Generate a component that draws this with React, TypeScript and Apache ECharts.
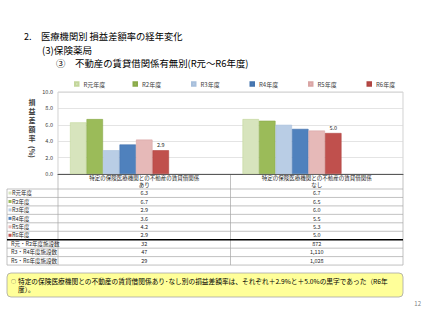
import React, { useEffect, useRef } from "react";
import * as echarts from "echarts";

const categories = ["あり", "なし"];
const headerPrefix = "特定の保険医療機関との不動産の賃貸借関係";
const years = ["R元年度", "R2年度", "R3年度", "R4年度", "R5年度", "R6年度"];
const colors = ["#d7e4bd", "#9bbb59", "#b9cde5", "#4f81bd", "#e6b9b8", "#c0504d"];
const borderColors = ["#c3d69b", "#8aaa4a", "#a7bfdc", "#4474ae", "#d9a5a4", "#b04441"];
const valR1 = [6.3, 6.7];
const valR2 = [6.7, 6.5];
const valR3 = [2.9, 6.0];
const valR4 = [3.6, 5.5];
const valR5 = [4.2, 5.3];
const valR6 = [2.9, 5.0];
const seriesValues = [valR1, valR2, valR3, valR4, valR5, valR6];
const countLabels = ["R元・R2年度施設数", "R3・R4年度施設数", "R5・R6年度施設数"];
const countsAri = ["32", "47", "29"];
const countsNashi = ["872", "1,110", "1,028"];
const yTicks = [0, 2, 4, 6, 8, 10];

const FONT = "'Noto Sans CJK JP', 'Noto Sans', sans-serif";

export default function App() {
  const ref = useRef<HTMLDivElement>(null);
  useEffect(() => {
    if (!ref.current) return;
    const chart = echarts.init(ref.current, undefined, { renderer: "svg" });

    const gLeft = 58;
    const gTop = 92;
    const gRight = 403;
    const gBottom = 174;
    const colMid = (gLeft + gRight) / 2;
    const colCenters = [(gLeft + colMid) / 2, (colMid + gRight) / 2];
    const tLeft = 7;
    const headerBottom = 189;
    const rowH = 8.45;
    const dataRows = years.length + countLabels.length;
    const rowY = (i: number) => headerBottom + i * rowH;
    const tBottom = rowY(dataRows);
    const lineColor = "#a6a6a6";
    const txt = "#262626";

    const graphic: any[] = [];
    // Titles
    graphic.push({ type: "text", x: 24, y: 36, style: { text: "2.", fontSize: 9, fill: "#000", fontFamily: FONT, textVerticalAlign: "middle" } });
    graphic.push({ type: "text", x: 41, y: 36, style: { text: "医療機関別 損益差額率の経年変化", fontSize: 9.3, fill: "#000", fontFamily: FONT, textVerticalAlign: "middle" } });
    graphic.push({ type: "text", x: 42, y: 49.5, style: { text: "(3)保険薬局", fontSize: 9.6, fill: "#000", fontFamily: FONT, textVerticalAlign: "middle" } });
    graphic.push({ type: "text", x: 56, y: 63, style: { text: "③", fontSize: 9.4, fill: "#000", fontFamily: FONT, textVerticalAlign: "middle" } });
    graphic.push({ type: "text", x: 75, y: 63, style: { text: "不動産の賃貸借関係有無別(R元～R6年度)", fontSize: 9.4, fill: "#000", fontFamily: FONT, textVerticalAlign: "middle" } });

    // Y-axis title
    graphic.push({ type: "text", x: 32, y: 97, style: { text: "損\n益\n差\n額\n率", fontSize: 7, lineHeight: 9, fontWeight: "bold", fill: "#404040", fontFamily: FONT, textAlign: "center" } });
    graphic.push({ type: "text", x: 32, y: 152, rotation: -Math.PI / 2, style: { text: "(%)", fontSize: 7, fontWeight: "bold", fill: "#404040", fontFamily: FONT, textAlign: "center", textVerticalAlign: "middle" } });

    // Table lines
    const line = (x1: number, y1: number, x2: number, y2: number, stroke = lineColor, w = 0.7) =>
      graphic.push({ type: "line", shape: { x1, y1, x2, y2 }, style: { stroke, lineWidth: w } });
    line(gLeft, gBottom, gLeft, tBottom);
    line(colMid, gBottom, colMid, tBottom);
    line(gRight, gBottom, gRight, tBottom);
    line(tLeft, headerBottom, tLeft, tBottom);
    for (let i = 0; i <= dataRows; i++) {
      if (i === years.length) continue;
      line(tLeft, rowY(i), gRight, rowY(i));
    }
    line(tLeft, rowY(years.length), gRight, rowY(years.length), "#000", 1.4);

    // Header text
    categories.forEach((c, ci) => {
      graphic.push({ type: "text", x: colCenters[ci], y: 177.5, style: { text: headerPrefix, fontSize: 5.5, fill: txt, fontFamily: FONT, textAlign: "center", textVerticalAlign: "middle" } });
      graphic.push({ type: "text", x: colCenters[ci], y: 184.5, style: { text: c, fontSize: 5.5, fill: txt, fontFamily: FONT, textAlign: "center", textVerticalAlign: "middle" } });
    });

    // Rows
    years.forEach((y, i) => {
      const cy = rowY(i) + rowH / 2;
      graphic.push({ type: "rect", shape: { x: 8.5, y: cy - 1.7, width: 3, height: 3 }, style: { fill: colors[i] } });
      graphic.push({ type: "text", x: 12, y: cy, style: { text: y, fontSize: 5.5, fill: txt, fontFamily: FONT, textVerticalAlign: "middle" } });
      seriesValues[i].forEach((v, ci) => {
        graphic.push({ type: "text", x: colCenters[ci], y: cy, style: { text: v.toFixed(1), fontSize: 5.5, fill: txt, fontFamily: FONT, textAlign: "center", textVerticalAlign: "middle" } });
      });
    });
    countLabels.forEach((l, j) => {
      const cy = rowY(years.length + j) + rowH / 2;
      graphic.push({ type: "text", x: 11, y: cy, style: { text: l, fontSize: 5.5, fill: txt, fontFamily: FONT, textVerticalAlign: "middle" } });
      [countsAri[j], countsNashi[j]].forEach((v, ci) => {
        graphic.push({ type: "text", x: colCenters[ci], y: cy, style: { text: v, fontSize: 5.5, fill: txt, fontFamily: FONT, textAlign: "center", textVerticalAlign: "middle" } });
      });
    });

    // Note box
    graphic.push({ type: "rect", shape: { x: 7, y: 273, width: 396, height: 24, r: 4 }, style: { fill: "#ffff99", stroke: "#a6a6a6", lineWidth: 0.8 } });
    graphic.push({ type: "text", x: 11, y: 280.5, style: { text: "○", fontSize: 5, fill: "#333", fontFamily: FONT, textVerticalAlign: "middle" } });
    graphic.push({ type: "text", x: 18, y: 280.5, style: { text: "特定の保険医療機関との不動産の賃貸借関係あり･なし別の損益差額率は、それぞれ＋2.9%と＋5.0%の黒字であった（R6年", fontSize: 6.7, fill: "#000", fontFamily: FONT, textVerticalAlign: "middle" } });
    graphic.push({ type: "text", x: 18, y: 289, style: { text: "度）。", fontSize: 6.7, fill: "#000", fontFamily: FONT, textVerticalAlign: "middle" } });
    graphic.push({ type: "text", x: 421, y: 303, style: { text: "12", fontSize: 6, fill: "#7f7f7f", fontFamily: FONT, textAlign: "right", textVerticalAlign: "middle" } });

    const series: any[] = years.map((name, i) => ({
      name,
      type: "bar",
      data: seriesValues[i],
      barWidth: 16.5,
      barGap: "0%",
      itemStyle: { color: colors[i], borderColor: borderColors[i], borderWidth: 0.6 },
      label: i === years.length - 1
        ? { show: true, position: "top", fontSize: 5.5, color: "#262626", fontFamily: FONT, distance: 2, formatter: (p: any) => p.value.toFixed(1) }
        : { show: false },
    }));
    for (let k = 0; k < 3; k++) {
      series.push({ name: "_pad" + k, type: "bar", data: [null, null], barWidth: 16.5, barGap: "0%", silent: true });
    }

    const legend = years.map((n, i) => ({
      data: [n],
      left: 74 + i * 58.5,
      top: 81,
      padding: 0,
      itemWidth: 3.5,
      itemHeight: 3.5,
      icon: "rect",
      selectedMode: false,
      textStyle: { fontSize: 6, color: "#404040", fontFamily: FONT },
    }));

    chart.setOption({
      animation: false,
      backgroundColor: "#fff",
      textStyle: { fontFamily: FONT },
      grid: { left: gLeft, top: gTop, right: 427 - gRight, bottom: 320 - gBottom, show: true, borderColor: "#bfbfbf", borderWidth: 0.7 },
      legend,
      xAxis: {
        type: "category",
        data: categories,
        axisLabel: { show: false },
        axisTick: { show: false },
        axisLine: { lineStyle: { color: "#595959", width: 1 } },
      },
      yAxis: {
        type: "value",
        min: yTicks[0],
        max: yTicks[yTicks.length - 1],
        interval: 2,
        axisLabel: { fontSize: 5.5, color: "#404040", margin: 5, formatter: (v: number) => v.toFixed(1) },
        axisLine: { show: false },
        axisTick: { show: false },
        splitLine: { lineStyle: { color: "#d9d9d9", width: 0.7 } },
      },
      series,
      graphic,
    });
    return () => chart.dispose();
  }, []);
  return <div ref={ref} style={{ width: 427, height: 320, position: "absolute", left: 0, top: 0, background: "#fff" }} />;
}
